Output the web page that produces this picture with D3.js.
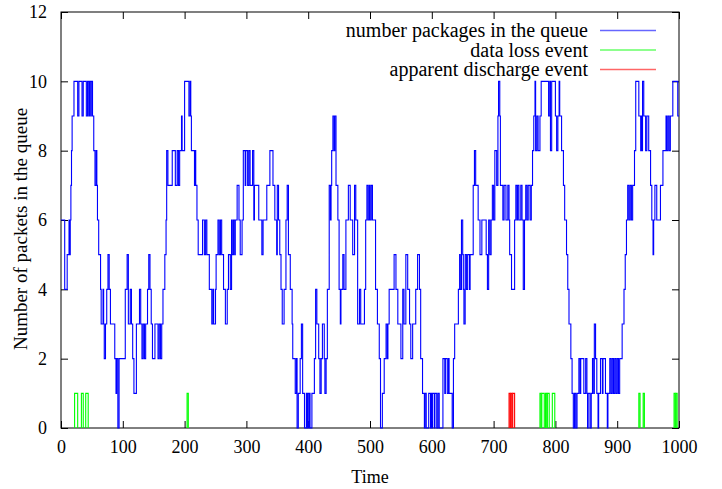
<html>
  <head>
    <meta charset="utf-8">
    <title>Packets in the queue</title>
    <script src="https://d3js.org/d3.v7.min.js"></script>
    <style>
      body {
        margin: 0;
        background-color: white;
      }

      svg text {
        font-family: "Liberation Serif", "DejaVu Serif", serif;
        font-size: 18px;
        fill: black;
      }

      .tick line {
        stroke: black;
      }

      .key text {
        font-size: 20px;
      }
    </style>
  </head>

  <body>
    <svg width="722" height="489"></svg>

    <script>
      // queue length as [time, packets], held until the next entry
      var queue = [
        [0, 6], [6, 4], [10, 5], [13, 6], [14, 5], [15, 6], [16, 7], [17, 8], [18, 9], [21, 10],
        [27, 9], [29, 10], [34, 9], [36, 10], [41, 9], [43, 10], [45, 9], [46, 10], [48, 9], [49, 10],
        [51, 9], [53, 8], [55, 7], [57, 8], [58, 7], [59, 6], [61, 5], [64, 4], [65, 3], [68, 4],
        [69, 3], [70, 2], [72, 3], [74, 4], [76, 5], [78, 4], [80, 3], [87, 2], [89, 1], [90, 2],
        [92, 0], [94, 2], [104, 4], [107, 5], [109, 3], [112, 4], [114, 3], [116, 2], [118, 1], [122, 3],
        [127, 4], [129, 3], [131, 2], [133, 3], [135, 2], [137, 3], [140, 4], [142, 5], [144, 4], [146, 3],
        [148, 2], [152, 3], [157, 2], [159, 3], [161, 2], [163, 3], [165, 4], [168, 5], [170, 6], [171, 8],
        [173, 7], [180, 8], [185, 7], [188, 8], [190, 7], [192, 8], [195, 9], [196, 8], [200, 10], [207, 9],
        [209, 10], [210, 9], [211, 8], [216, 7], [217, 8], [218, 7], [220, 6], [222, 5], [229, 6], [232, 5],
        [234, 6], [236, 5], [240, 4], [244, 3], [246, 4], [247, 3], [250, 4], [251, 5], [254, 6], [256, 5],
        [258, 6], [260, 5], [263, 4], [266, 3], [269, 4], [271, 5], [274, 4], [276, 6], [277, 5], [279, 6],
        [281, 5], [282, 6], [285, 7], [288, 6], [290, 5], [293, 6], [295, 8], [298, 7], [299, 8], [302, 7],
        [304, 8], [306, 7], [310, 8], [312, 6], [313, 7], [320, 6], [325, 5], [327, 6], [333, 7], [338, 8],
        [343, 7], [346, 6], [349, 5], [350, 7], [352, 6], [354, 5], [356, 4], [358, 3], [361, 4], [364, 6],
        [366, 7], [368, 5], [371, 4], [374, 3], [375, 2], [379, 1], [381, 2], [382, 0], [384, 1], [387, 2],
        [389, 3], [391, 1], [394, 0], [397, 1], [398, 0], [399, 1], [401, 0], [402, 1], [403, 0], [406, 1],
        [410, 2], [412, 4], [414, 3], [417, 2], [419, 1], [421, 2], [423, 3], [426, 2], [427, 1], [429, 2],
        [431, 4], [434, 7], [436, 6], [437, 7], [438, 8], [440, 9], [442, 8], [443, 9], [445, 7], [448, 6],
        [450, 4], [452, 3], [453, 4], [456, 5], [458, 4], [461, 6], [465, 7], [468, 6], [472, 5], [475, 7],
        [477, 6], [480, 3], [483, 4], [485, 3], [491, 4], [493, 6], [495, 7], [497, 6], [499, 7], [500, 6],
        [502, 7], [504, 6], [509, 4], [512, 3], [515, 2], [517, 0], [520, 1], [523, 2], [526, 3], [528, 2],
        [529, 3], [531, 4], [539, 5], [542, 4], [545, 3], [550, 2], [553, 4], [555, 3], [558, 5], [561, 4],
        [564, 3], [566, 2], [569, 3], [574, 4], [577, 5], [580, 4], [582, 2], [585, 1], [588, 0], [589, 1],
        [591, 0], [595, 1], [598, 0], [599, 1], [600, 0], [601, 1], [604, 0], [605, 1], [608, 0], [610, 1],
        [612, 0], [618, 2], [621, 1], [622, 2], [625, 1], [627, 2], [628, 1], [633, 0], [635, 2], [637, 3],
        [643, 4], [645, 5], [646, 4], [648, 6], [650, 5], [651, 4], [652, 3], [654, 5], [656, 4], [658, 5],
        [661, 4], [662, 5], [667, 7], [669, 8], [671, 7], [675, 6], [678, 5], [681, 6], [688, 5], [690, 4],
        [692, 6], [694, 5], [696, 6], [698, 7], [700, 6], [702, 8], [705, 7], [707, 9], [708, 10], [710, 9],
        [711, 7], [715, 6], [717, 7], [720, 6], [723, 7], [725, 6], [726, 5], [729, 4], [734, 6], [736, 7],
        [738, 6], [739, 7], [741, 6], [744, 7], [746, 6], [748, 4], [750, 6], [752, 7], [754, 6], [756, 7],
        [759, 6], [761, 7], [763, 8], [765, 9], [767, 10], [768, 8], [770, 9], [772, 8], [775, 9], [777, 10],
        [789, 9], [791, 10], [792, 8], [794, 10], [800, 9], [802, 8], [804, 9], [806, 10], [807, 9], [810, 8],
        [813, 7], [815, 6], [818, 5], [820, 4], [822, 3], [825, 2], [827, 1], [829, 0], [831, 1], [833, 0],
        [835, 1], [838, 2], [840, 1], [841, 2], [846, 1], [849, 2], [851, 1], [852, 0], [853, 1], [856, 0],
        [858, 1], [860, 2], [862, 1], [863, 3], [865, 2], [867, 1], [869, 0], [870, 1], [873, 2], [876, 1],
        [877, 2], [881, 1], [884, 0], [885, 1], [888, 2], [890, 1], [892, 2], [894, 1], [896, 2], [898, 1],
        [900, 2], [902, 1], [904, 2], [908, 3], [911, 4], [913, 5], [915, 6], [917, 7], [919, 6], [921, 7],
        [923, 6], [925, 7], [928, 8], [930, 10], [935, 9], [938, 8], [939, 9], [940, 8], [941, 10], [943, 9],
        [946, 8], [948, 9], [951, 8], [954, 7], [956, 6], [958, 5], [959, 6], [961, 7], [964, 6], [970, 7],
        [974, 8], [979, 9], [980, 8], [982, 9], [984, 8], [986, 9], [990, 10], [998, 9], [1000, 9]
      ];

      // event pulses as [start, end]
      var lossEvents = [
        [22, 27], [33, 36], [40, 44], [204, 206],
        [775, 777], [778, 782], [784, 786], [787, 790], [795, 799],
        [935, 937], [942, 944], [992, 994], [995, 997]
      ];
      var dischargeEvents = [[725, 727], [728, 730], [731, 734]];

      var xTicks = [0, 100, 200, 300, 400, 500, 600, 700, 800, 900, 1000];
      var yTicks = [0, 2, 4, 6, 8, 10, 12];

      var legendLabels = ['number packages in the queue', 'data loss event', 'apparent discharge event'];
      var colors = ['#0000ff', '#00ff00', '#ff0000'];

      var svg = d3.select('svg');
      var plotLeft = 61, plotRight = 679, plotTop = 12, plotBottom = 428;

      var x = d3.scaleLinear().domain([0, 1000]).range([plotLeft, plotRight]);
      var y = d3.scaleLinear().domain([0, 12]).range([plotBottom, plotTop]);

      // axes, ticks point inwards on all four sides
      svg.append('g')
        .attr('transform', 'translate(0,' + plotBottom + ')')
        .call(d3.axisBottom(x).tickValues(xTicks).tickSizeInner(-7).tickSizeOuter(0)
          .tickPadding(12).tickFormat(d3.format('d')));
      svg.append('g')
        .attr('transform', 'translate(0,' + plotTop + ')')
        .call(d3.axisTop(x).tickValues(xTicks).tickSizeInner(-7).tickSizeOuter(0).tickFormat(''));
      svg.append('g')
        .attr('transform', 'translate(' + plotLeft + ',0)')
        .call(d3.axisLeft(y).tickValues(yTicks).tickSizeInner(-7).tickSizeOuter(0).tickPadding(14));
      svg.append('g')
        .attr('transform', 'translate(' + plotRight + ',0)')
        .call(d3.axisRight(y).tickValues(yTicks).tickSizeInner(-7).tickSizeOuter(0).tickFormat(''));

      svg.selectAll('.domain').remove();
      svg.selectAll('.tick text')
        .style('font-family', '"Liberation Serif", serif')
        .style('font-size', '18px');

      svg.append('rect')
        .attr('x', plotLeft)
        .attr('y', plotTop)
        .attr('width', plotRight - plotLeft)
        .attr('height', plotBottom - plotTop)
        .attr('fill', 'none')
        .attr('stroke', 'black');

      // queue line
      var line = d3.line()
        .x(function(d){ return x(d[0]); })
        .y(function(d){ return y(d[1]); })
        .curve(d3.curveStepAfter);

      svg.append('path')
        .datum(queue)
        .attr('d', line)
        .attr('fill', 'none')
        .attr('stroke', colors[0])
        .attr('stroke-width', 1.1);

      var pulse = function(d){
        return 'M' + x(d[0]) + ',' + y(0) +
          'L' + x(d[0]) + ',' + y(1) +
          'L' + x(d[1]) + ',' + y(1) +
          'L' + x(d[1]) + ',' + y(0);
      };

      svg.selectAll('.loss')
        .data(lossEvents)
        .enter().append('path')
        .attr('class', 'loss')
        .attr('d', pulse)
        .attr('fill', 'none')
        .attr('stroke', colors[1])
        .attr('stroke-width', 1.1);

      svg.selectAll('.discharge')
        .data(dischargeEvents)
        .enter().append('path')
        .attr('class', 'discharge')
        .attr('d', pulse)
        .attr('fill', 'none')
        .attr('stroke', colors[2])
        .attr('stroke-width', 1.1);

      // key
      var key = svg.append('g').attr('class', 'key');
      legendLabels.forEach(function(label, i){
        var ky = 30.5 + i * 19.5;
        key.append('text')
          .attr('x', 588)
          .attr('y', ky)
          .attr('dy', '0.33em')
          .attr('text-anchor', 'end')
          .text(label);
        key.append('line')
          .attr('x1', 600)
          .attr('x2', 656)
          .attr('y1', ky)
          .attr('y2', ky)
          .attr('stroke', colors[i])
          .attr('stroke-opacity', 0.6)
          .attr('stroke-width', 1.5);
      });

      // axis titles
      svg.append('text')
        .attr('x', (plotLeft + plotRight) / 2)
        .attr('y', 483)
        .attr('text-anchor', 'middle')
        .text('Time');

      svg.append('text')
        .attr('transform', 'translate(27,229) rotate(-90)')
        .attr('text-anchor', 'middle')
        .style('font-size', '19px')
        .text('Number of packets in the queue');
    </script>
  </body>
</html>
